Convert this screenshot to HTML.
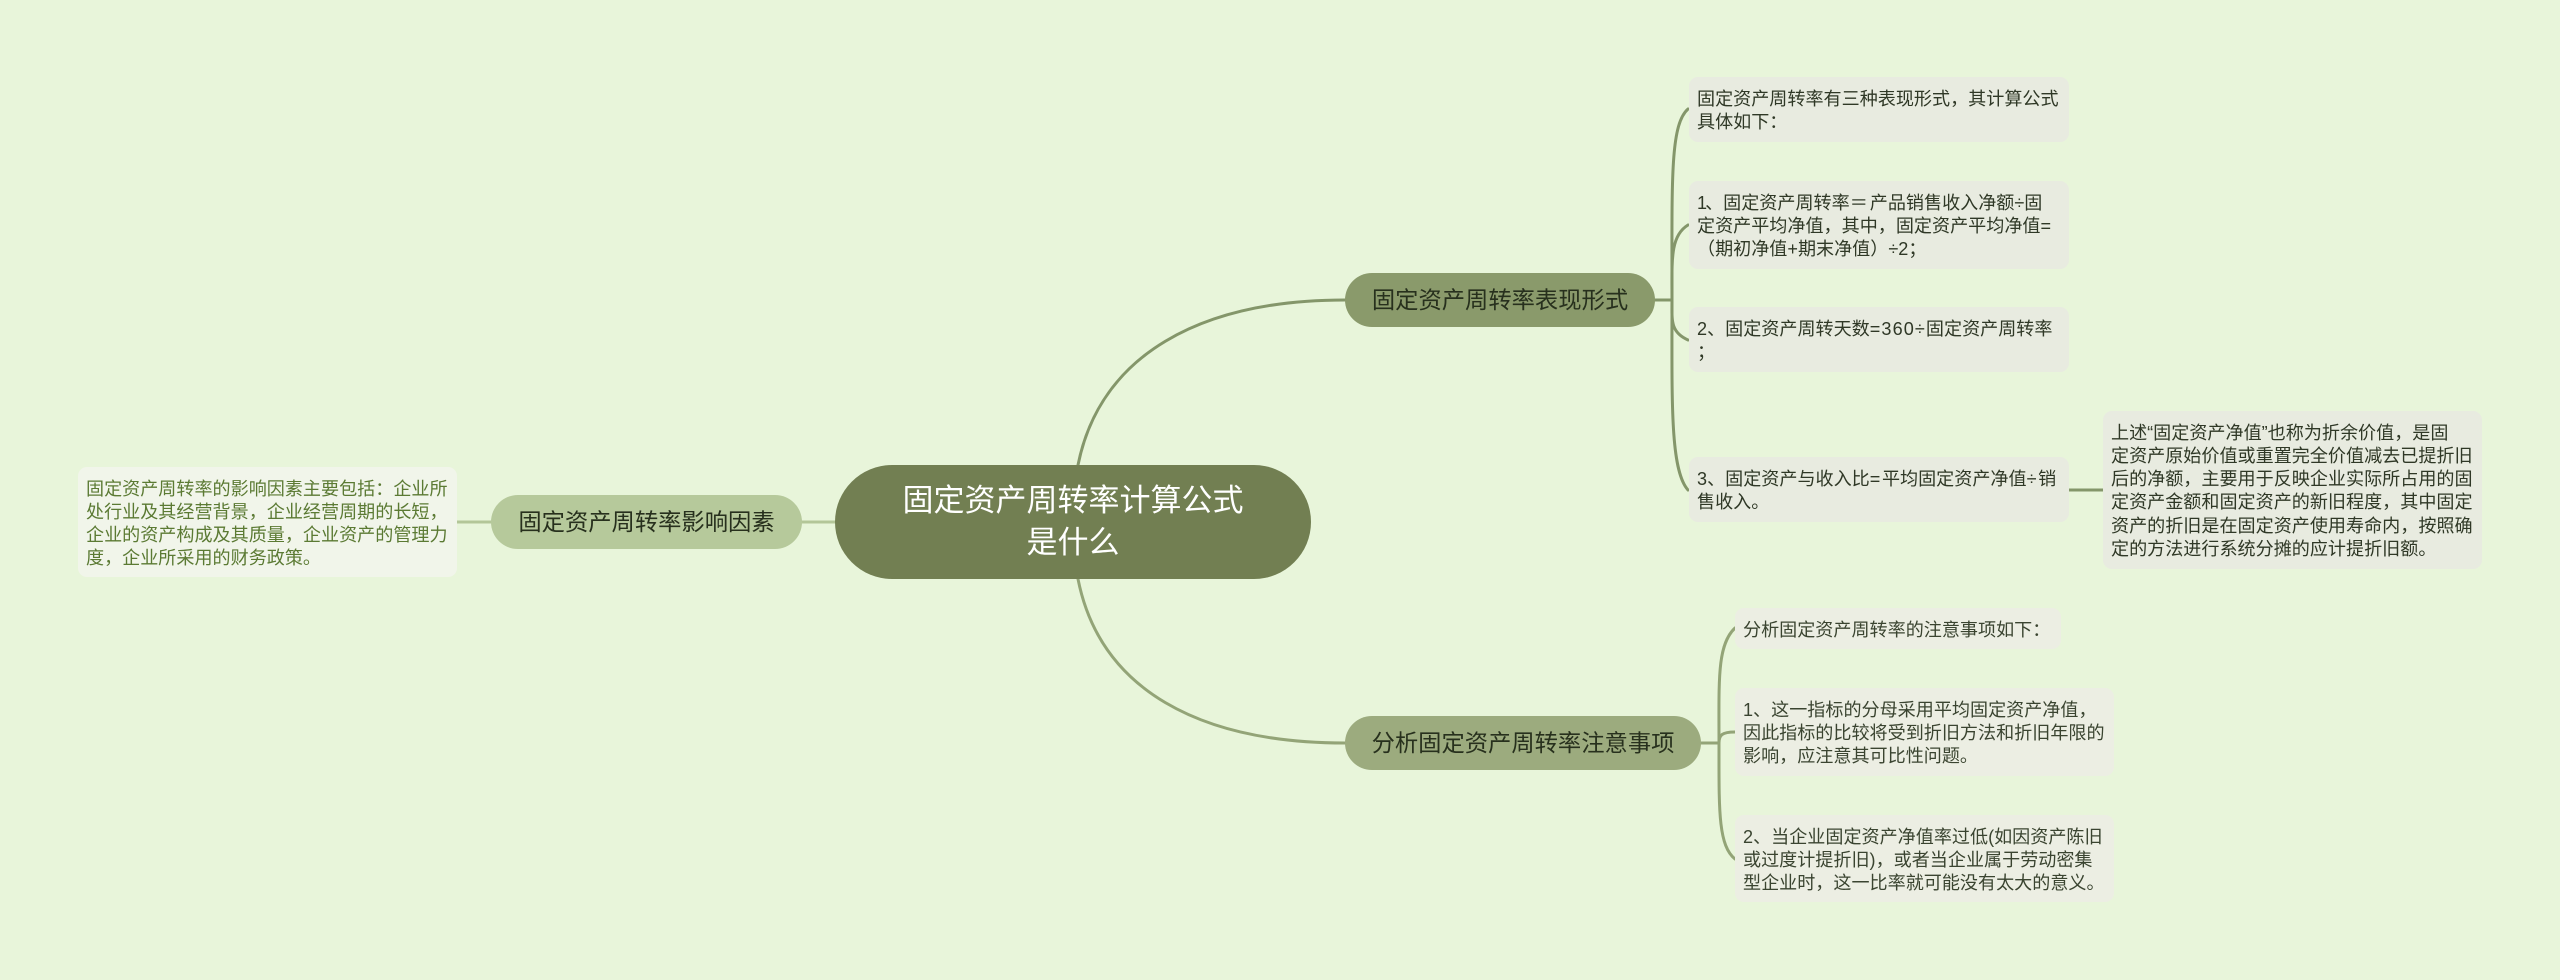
<!DOCTYPE html>
<html lang="zh"><head><meta charset="utf-8"><title>固定资产周转率计算公式是什么</title>
<style>
html,body{margin:0;padding:0;background:#e8f5da;}
#c{position:relative;width:2560px;height:980px;overflow:hidden;background:#e8f5da;font-family:"Liberation Sans","Noto Sans CJK SC",sans-serif;}
svg{position:absolute;left:0;top:0;}
.n{position:absolute;box-sizing:border-box;white-space:nowrap;}
.t{font-size:18.08px;line-height:23.33px;padding:10.5px 8px 8px;border-radius:9px;color:#2f3826;background:#e8ebe0;}
.t2{background:#eceee3;color:#3a4430;}
.t3{background:#f1f5ea;color:#5b7a33;}
.p{font-size:23.3px;height:54px;line-height:54px;border-radius:27px;text-align:center;color:#27301d;}
.r{left:835px;top:465px;width:476px;height:114px;border-radius:57px;background:#727f52;color:#fff;font-size:31px;line-height:42px;text-align:center;padding-top:15px;}
.w{letter-spacing:1.1px;}
.x{letter-spacing:1.6px;}
.m{letter-spacing:-2px;}
</style></head><body><div id="c">
<svg width="2560" height="980" fill="none" stroke-linecap="round">
<g stroke="#84966a" stroke-width="3">
<path d="M1078,465C1100,355 1200,300 1345,300"/>
<path d="M1655,300H1672"/>
<path d="M1672,300C1672,180 1670,125 1688,109"/>
<path d="M1672,300C1672,260 1670,236 1688,225"/>
<path d="M1672,300C1672,320 1670,332 1688,340"/>
<path d="M1672,300C1672,400 1670,470 1688,490"/>
<path d="M2069,490H2103"/>
</g>
<g stroke="#93a477" stroke-width="3">
<path d="M1078,579C1100,690 1200,743 1345,743"/>
<path d="M1701,743H1719"/>
<path d="M1719,743C1719,680 1717,645 1735,628"/>
<path d="M1719,743C1719,735 1722,732 1735,732"/>
<path d="M1719,743C1719,810 1718,845 1735,859"/>
</g>
<g stroke="#b3c698" stroke-width="3">
<path d="M801,522H835"/>
<path d="M457,522H491"/>
</g>
</svg>
<div class="n r">固定资产周转率计算公式<br>是什么</div>
<div class="n p" style="left:1345px;top:273px;width:310px;background:#8a9a6b">固定资产周转率表现形式</div>
<div class="n p" style="left:1345px;top:716px;width:356px;background:#9cab7e">分析固定资产周转率注意事项</div>
<div class="n p" style="left:491px;top:495px;width:311px;background:#b6c99b">固定资产周转率影响因素</div>
<div class="n t" style="left:1689px;top:77px;width:380px;height:65px">固定资产周转率有三种表现形式，其计算公式<br>具体如下：</div>
<div class="n t" style="left:1689px;top:181px;width:380px;height:88px"><span class="m">1</span>、固定资产周转率<span style="letter-spacing:2px">＝</span>产品销售收入净额÷固<br>定资产平均净值，其中，固定资产平均净值=<br>（期初净值+期末净值）÷2；</div>
<div class="n t" style="left:1689px;top:307px;width:380px;height:65px">2、固定资产周转天数<span class="w">=360÷</span>固定资产周转率<br>；</div>
<div class="n t" style="left:1689px;top:457px;width:380px;height:65px">3、固定资产与收入比<span class="x">=</span>平均固定资产净值<span class="x">÷</span>销<br>售收入。</div>
<div class="n t" style="left:2103px;top:411px;width:379px;height:158px">上述“固定资产净值”也称为折余价值，是固<br>定资产原始价值或重置完全价值减去已提折旧<br>后的净额，主要用于反映企业实际所占用的固<br>定资产金额和固定资产的新旧程度，其中固定<br>资产的折旧是在固定资产使用寿命内，按照确<br>定的方法进行系统分摊的应计提折旧额。</div>
<div class="n t t2" style="left:1735px;top:608px;width:326px;height:41px">分析固定资产周转率的注意事项如下：</div>
<div class="n t t2" style="left:1735px;top:688px;width:379px;height:88px">1、这一指标的分母采用平均固定资产净值，<br>因此指标的比较将受到折旧方法和折旧年限的<br>影响，应注意其可比性问题。</div>
<div class="n t t2" style="left:1735px;top:815px;width:379px;height:87px">2、当企业固定资产净值率过低(如因资产陈旧<br>或过度计提折旧)，或者当企业属于劳动密集<br>型企业时，这一比率就可能没有太大的意义。</div>
<div class="n t t3" style="left:78px;top:467px;width:379px;height:110px">固定资产周转率的影响因素主要包括：企业所<br>处行业及其经营背景，企业经营周期的长短，<br>企业的资产构成及其质量，企业资产的管理力<br>度，企业所采用的财务政策。</div>
</div></body></html>
